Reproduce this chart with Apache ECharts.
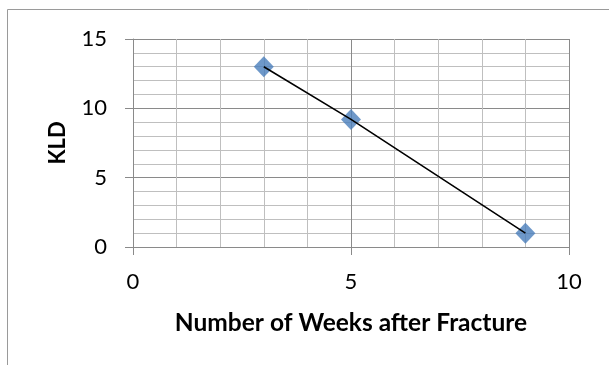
<!DOCTYPE html>
<html>
<head>
<meta charset="utf-8">
<script src="https://cdn.jsdelivr.net/npm/echarts@6/dist/echarts.min.js"></script>
<style>
  html, body { margin: 0; padding: 0; background: #ffffff; }
  #chart { width: 609px; height: 365px; }
</style>
</head>
<body>
<div id="chart"></div>
<script>
// Weeks after fracture and the measured KLD at each
const weeks = [3, 5, 9];
const kld = [13, 9.2, 1.0];

const xTitle = 'Number of Weeks after Fracture';
const yTitle = 'KLD';

const points = weeks.map((w, i) => [w, kld[i]]);

const font = 'Lato, "Open Sans", sans-serif';
const majorGrid = '#8a8a8a';
const minorGrid = '#bfbfbf';

const chart = echarts.init(document.getElementById('chart'), null, { renderer: 'canvas' });

chart.setOption({
  animation: false,
  backgroundColor: '#ffffff',
  graphic: [{
    type: 'rect',
    shape: { x: 7.5, y: 9.5, width: 700, height: 500 },
    style: { fill: 'none', stroke: '#9a9a9a', lineWidth: 1 },
    silent: true,
    z: -10
  }],
  grid: { left: 133, right: 40, top: 39, bottom: 118 },
  xAxis: {
    type: 'value',
    min: 0, max: 10, interval: 5,
    name: xTitle,
    nameLocation: 'middle',
    nameGap: 64,
    nameTextStyle: { fontFamily: font, fontSize: 24.5, fontWeight: 'bold', color: '#000' },
    axisLine: { show: true, lineStyle: { color: majorGrid, width: 1 } },
    axisTick: { show: true, length: 8, inside: false, lineStyle: { color: majorGrid } },
    axisLabel: { margin: 24, fontFamily: font, fontSize: 22, color: '#000' },
    splitLine: { show: true, lineStyle: { color: majorGrid, width: 1 } },
    minorTick: { show: false, splitNumber: 5 },
    minorSplitLine: { show: true, lineStyle: { color: minorGrid, width: 1 } }
  },
  yAxis: {
    type: 'value',
    min: 0, max: 15, interval: 5,
    name: yTitle,
    nameLocation: 'middle',
    nameGap: 64,
    nameRotate: 90,
    nameTextStyle: { fontFamily: font, fontSize: 22, fontWeight: 'bold', color: '#000' },
    axisLine: { show: true, lineStyle: { color: majorGrid, width: 1 } },
    axisTick: { show: true, length: 8, inside: false, lineStyle: { color: majorGrid } },
    axisLabel: { margin: 26, fontFamily: font, fontSize: 22, color: '#000' },
    splitLine: { show: true, lineStyle: { color: majorGrid, width: 1 } },
    minorTick: { show: false, splitNumber: 5 },
    minorSplitLine: { show: true, lineStyle: { color: minorGrid, width: 1 } }
  },
  series: [
    {
      type: 'scatter',
      data: points,
      symbol: 'diamond',
      symbolSize: [20, 21],
      itemStyle: { color: '#4a7ebb' },
      z: 2
    },
    {
      type: 'line',
      data: points,
      showSymbol: false,
      symbol: 'none',
      lineStyle: { color: '#000000', width: 1.6 },
      z: 3
    }
  ]
});
</script>
</body>
</html>
